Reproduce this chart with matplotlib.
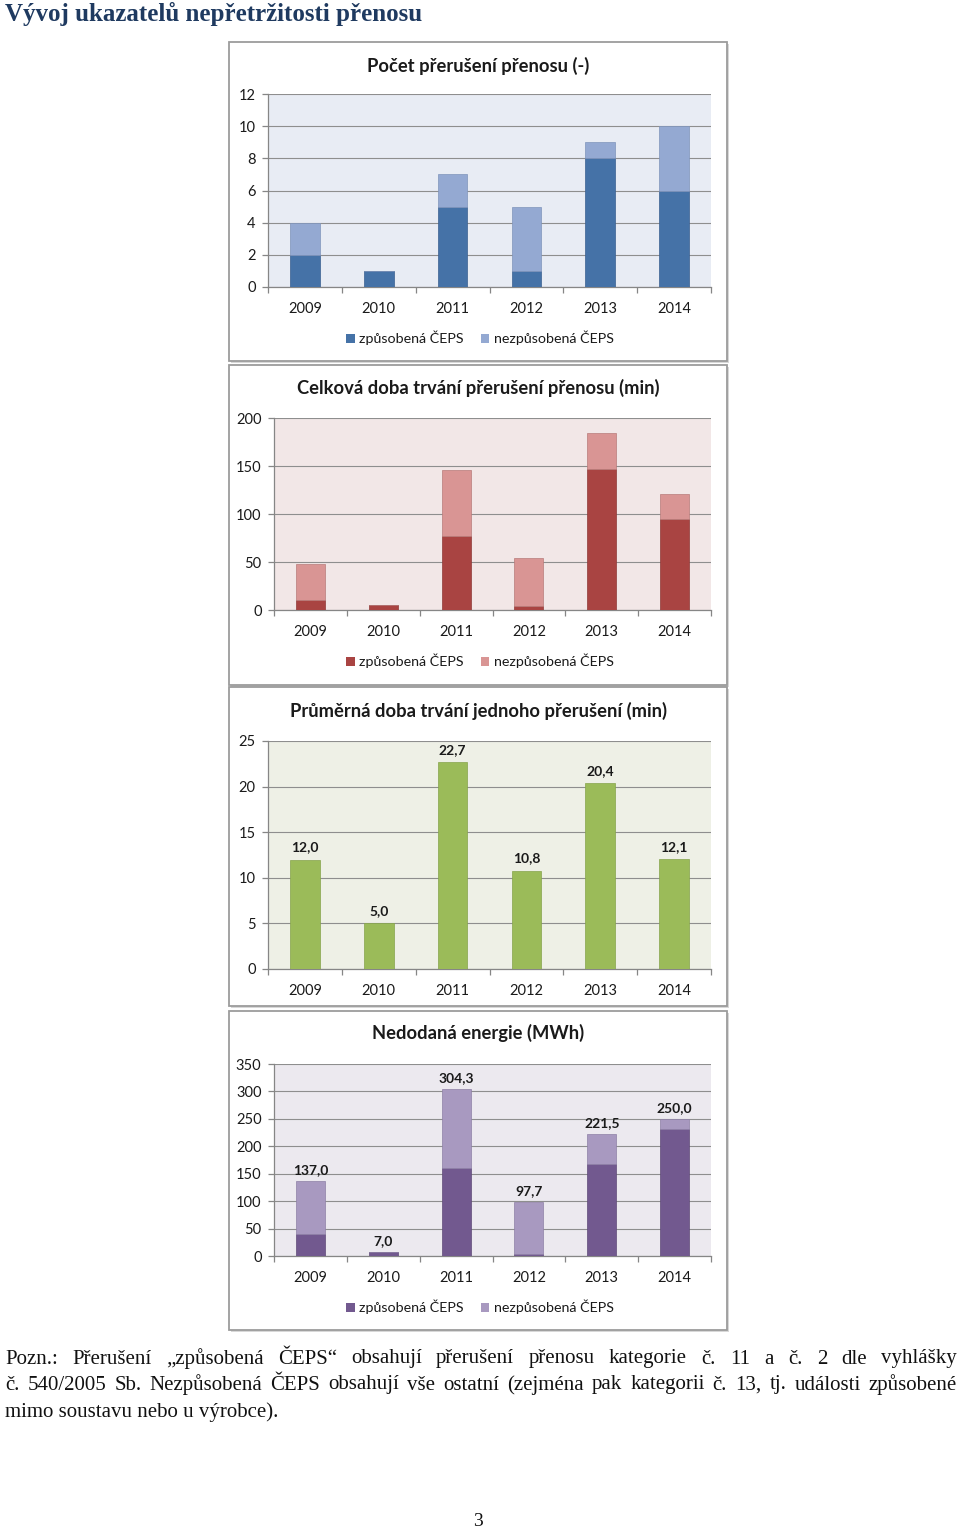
import matplotlib
matplotlib.use('Agg')
import matplotlib.pyplot as plt
from matplotlib.patches import Rectangle, Patch
import numpy as np

# ---------------- data ----------------
years = ['2009', '2010', '2011', '2012', '2013', '2014']
series_names = ['způsobená ČEPS', 'nezpůsobená ČEPS']

count_ceps = [2, 1, 5, 1, 8, 6]
count_other = [2, 0, 2, 4, 1, 4]

dur_ceps = [10.7, 5.0, 77.0, 4.5, 147.0, 95.0]
dur_other = [37.3, 0.0, 69.0, 49.5, 37.0, 25.5]

avg_dur = [12.0, 5.0, 22.7, 10.8, 20.4, 12.1]

ens_ceps = [40.6, 7.0, 161.0, 3.6, 167.8, 231.4]
ens_total = [137.0, 7.0, 304.3, 97.7, 221.5, 250.0]

titles = ['Počet přerušení přenosu (-)',
          'Celková doba trvání přerušení přenosu (min)',
          'Průměrná doba trvání jednoho přerušení (min)',
          'Nedodaná energie (MWh)']

page_title = 'Vývoj ukazatelů nepřetržitosti přenosu'
note_lines = [
    'Pozn.: Přerušení „způsobená ČEPS“ obsahují přerušení přenosu kategorie č. 11 a č. 2 dle vyhlášky',
    'č. 540/2005 Sb. Nezpůsobená ČEPS obsahují vše ostatní (zejména pak kategorii č. 13, tj. události způsobené',
    'mimo soustavu nebo u výrobce).',
]
page_number = '3'

# ---------------- figure ----------------
W, H = 960, 1534
fig = plt.figure(figsize=(W / 100, H / 100), dpi=100)
fig.patch.set_facecolor('white')
SANS = ['Lato', 'DejaVu Sans']
SERIF = ['Liberation Serif', 'DejaVu Serif']
TXT = '#1a1a1a'
AXC = '#868686'


def fy(y):
    return 1 - y / H


def ax_at(l, t, r, b):
    return fig.add_axes([l / W, 1 - b / H, (r - l) / W, (b - t) / H])


def box(l, t, r, b):
    fig.patches.append(Rectangle(((l + 2) / W, 1 - (b + 2) / H), (r - l) / W, (b - t) / H,
                                 transform=fig.transFigure, facecolor='#d8d8d8',
                                 edgecolor='none', zorder=-3))
    fig.patches.append(Rectangle((l / W, 1 - b / H), (r - l) / W, (b - t) / H,
                                 transform=fig.transFigure, facecolor='white',
                                 edgecolor='#9c9c9c', lw=1.3, zorder=-2))


def style(ax, bg, ymax, step):
    ax.set_facecolor(bg)
    ax.set_xlim(-0.5, 5.5)
    ax.set_ylim(0, ymax)
    ax.set_yticks(np.arange(0, ymax + step / 2, step))
    ax.yaxis.grid(True, color='#8e8e8e', lw=0.8)
    ax.set_axisbelow(True)
    for s in ['top', 'right']:
        ax.spines[s].set_visible(False)
    for s in ['left', 'bottom']:
        ax.spines[s].set_color(AXC)
        ax.spines[s].set_linewidth(0.9)
    ax.set_xticks(range(len(years)))
    ax.set_xticklabels(years, family=SANS, fontsize=10.5, color=TXT)
    ax.set_xticks(np.arange(-0.5, len(years), 1), minor=True)
    ax.tick_params(axis='x', which='major', length=0, pad=10.5)
    ax.tick_params(axis='x', which='minor', length=4, color=AXC, width=0.9)
    ax.tick_params(axis='y', length=4, color=AXC, width=0.9, pad=5)
    for lab in ax.get_yticklabels():
        lab.set_family(SANS)
        lab.set_fontsize(10.5)
        lab.set_color(TXT)


def chart_title(text, y):
    fig.text(478 / W, fy(y), text, ha='center', va='center', family=SANS,
             fontsize=13.2, fontweight='bold', color=TXT)


def legend(c1, c2, y):
    handles = [Patch(facecolor=c1, edgecolor='none'), Patch(facecolor=c2, edgecolor='none')]
    fig.legend(handles, series_names, loc='center', bbox_to_anchor=(480 / W, fy(y)),
               ncol=2, frameon=False, prop={'family': SANS, 'size': 10.3},
               handlelength=0.6, handleheight=0.6, handletextpad=0.3,
               columnspacing=1.2, labelcolor=TXT)


x = np.arange(len(years))
BW = 0.4

# ---------------- chart 1 ----------------
box(229, 42, 727, 361)
chart_title(titles[0], 66)
ax1 = ax_at(268, 94, 711, 287)
style(ax1, '#e8ecf4', 12, 2)
c1d, c1l = '#4572a7', '#94a9d2'
ax1.bar(x, count_ceps, BW, color=c1d, edgecolor='#3a6090', lw=0.5, zorder=3)
ax1.bar(x, count_other, BW, bottom=count_ceps, color=c1l, edgecolor='#7f94bb', lw=0.5, zorder=3)
legend(c1d, c1l, 338)

# ---------------- chart 2 ----------------
box(229, 365, 727, 685)
chart_title(titles[1], 388)
ax2 = ax_at(274, 418, 711, 610)
style(ax2, '#f2e7e7', 200, 50)
c2d, c2l = '#a94442', '#d99594'
ax2.bar(x, dur_ceps, BW, color=c2d, edgecolor='#8f3a38', lw=0.5, zorder=3)
ax2.bar(x, dur_other, BW, bottom=dur_ceps, color=c2l, edgecolor='#b87b7a', lw=0.5, zorder=3)
legend(c2d, c2l, 661)

# ---------------- chart 3 ----------------
box(229, 687, 727, 1006)
chart_title(titles[2], 711)
ax3 = ax_at(268, 741, 711, 969)
style(ax3, '#eef0e6', 25, 5)
c3 = '#9bbb59'
ax3.bar(x, avg_dur, BW, color=c3, edgecolor='#86a44b', lw=0.5, zorder=3)
for xi, v in zip(x, avg_dur):
    ax3.annotate(f'{v:.1f}'.replace('.', ','), (xi, v), xytext=(0, 6),
                 textcoords='offset pixels', ha='center', va='bottom',
                 family=SANS, fontsize=10, fontweight='bold', color=TXT)

# ---------------- chart 4 ----------------
box(229, 1011, 727, 1330)
chart_title(titles[3], 1033)
ax4 = ax_at(274, 1064, 711, 1256)
style(ax4, '#ece9ef', 350, 50)
c4d, c4l = '#72598f', '#a899c0'
ens_other = [t - c for t, c in zip(ens_total, ens_ceps)]
ax4.bar(x, ens_ceps, BW, color=c4d, edgecolor='#5f4a78', lw=0.5, zorder=3)
ax4.bar(x, ens_other, BW, bottom=ens_ceps, color=c4l, edgecolor='#8e80a6', lw=0.5, zorder=3)
for xi, v in zip(x, ens_total):
    ax4.annotate(f'{v:.1f}'.replace('.', ','), (xi, v), xytext=(0, 5),
                 textcoords='offset pixels', ha='center', va='bottom',
                 family=SANS, fontsize=10, fontweight='bold', color=TXT)
legend(c4d, c4l, 1307)

# ---------------- page texts ----------------
fig.text(5 / W, fy(14), page_title, ha='left', va='center', family=SERIF,
         fontsize=18, fontweight='bold', color='#1f3a60')

NOTE_FS = 15
note_y = [1359, 1385, 1412]
fig.canvas.draw()
renderer = fig.canvas.get_renderer()
x0, x1 = 5, 957
for i, (line, y) in enumerate(zip(note_lines, note_y)):
    if i < len(note_lines) - 1:
        words = line.split(' ')
        objs = [fig.text(0, fy(y), w, ha='left', va='center', family=SERIF,
                         fontsize=NOTE_FS, color='#111111') for w in words]
        widths = [o.get_window_extent(renderer).width for o in objs]
        gap = (x1 - x0 - sum(widths)) / (len(words) - 1)
        cx = x0
        for o, wdt in zip(objs, widths):
            o.set_x(cx / W)
            cx += wdt + gap
    else:
        fig.text(x0 / W, fy(y), line, ha='left', va='center', family=SERIF,
                 fontsize=NOTE_FS, color='#111111')

fig.text(478 / W, fy(1522), page_number, ha='center', va='center', family=SERIF,
         fontsize=14, color='#111111')

fig.savefig('out.png', dpi=100, facecolor='white')
